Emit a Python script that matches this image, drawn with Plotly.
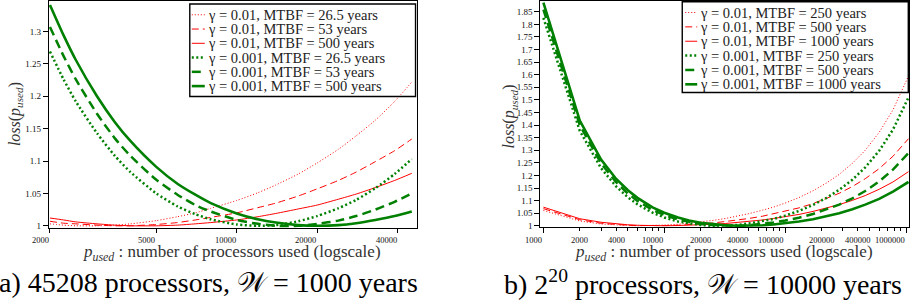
import math
import plotly.graph_objects as go

W, H = 910, 308
FONT = "Liberation Serif"
RED, GREEN = "#ff0000", "#008000"

# ---------------- data: (a) 45208 processors ----------------
p_a = [2000, 2250, 2500, 3000, 3500, 4000, 5000, 6000, 7000, 8000, 10000, 12000, 14000,
       17000, 20000, 24000, 28000, 33000, 39000, 45208]
a_r_265 = [1.003, 1.001, 1.000, 1.000, 1.001, 1.003, 1.008, 1.014, 1.020, 1.027, 1.039, 1.051,
           1.063, 1.080, 1.097, 1.118, 1.139, 1.163, 1.192, 1.222]
a_r_53 = [1.007, 1.004, 1.003, 1.001, 1.000, 1.000, 1.002, 1.005, 1.009, 1.013, 1.020, 1.028,
          1.035, 1.046, 1.057, 1.070, 1.083, 1.099, 1.116, 1.134]
a_r_500 = [1.012, 1.009, 1.006, 1.003, 1.001, 1.000, 1.000, 1.001, 1.003, 1.005, 1.009, 1.014,
           1.019, 1.026, 1.032, 1.041, 1.049, 1.059, 1.070, 1.081]
a_g_265 = [1.269, 1.226, 1.192, 1.143, 1.108, 1.083, 1.050, 1.030, 1.018, 1.010, 1.002, 1.000,
           1.001, 1.007, 1.015, 1.027, 1.040, 1.058, 1.080, 1.103]
a_g_53 = [1.307, 1.262, 1.226, 1.173, 1.135, 1.108, 1.071, 1.048, 1.032, 1.022, 1.009, 1.003,
          1.000, 1.000, 1.003, 1.008, 1.015, 1.025, 1.037, 1.050]
a_g_500 = [1.341, 1.294, 1.256, 1.200, 1.160, 1.131, 1.091, 1.065, 1.048, 1.035, 1.019, 1.010,
           1.005, 1.001, 1.000, 1.001, 1.004, 1.009, 1.015, 1.022]

# ---------------- data: (b) 2^20 processors ----------------
p_b = [1000, 2000, 3000, 4000, 5000, 6000, 8000, 10000, 13000, 16000, 20000, 25000, 32000,
       40000, 50000, 65000, 80000, 100000, 130000, 170000, 220000, 280000, 360000, 460000,
       600000, 780000, 1048576]
b_r_250 = [1.061, 1.019, 1.007, 1.002, 1.001, 1.000, 1.001, 1.003, 1.006, 1.010, 1.015, 1.021,
           1.029, 1.038, 1.048, 1.062, 1.074, 1.090, 1.112, 1.139, 1.170, 1.204, 1.248, 1.300,
           1.371, 1.460, 1.595]
b_r_500 = [1.068, 1.024, 1.010, 1.005, 1.002, 1.001, 1.000, 1.001, 1.002, 1.004, 1.008, 1.011,
           1.017, 1.022, 1.029, 1.038, 1.047, 1.057, 1.071, 1.088, 1.108, 1.129, 1.156, 1.187,
           1.227, 1.276, 1.346]
b_r_1000 = [1.074, 1.028, 1.014, 1.007, 1.004, 1.002, 1.000, 1.000, 1.001, 1.002, 1.003, 1.006,
            1.009, 1.013, 1.017, 1.023, 1.029, 1.036, 1.045, 1.057, 1.070, 1.084, 1.101, 1.120,
            1.145, 1.174, 1.215]
b_g_250 = [1.826, 1.377, 1.229, 1.156, 1.113, 1.085, 1.052, 1.033, 1.017, 1.009, 1.003, 1.000,
           1.001, 1.003, 1.009, 1.018, 1.027, 1.040, 1.059, 1.083, 1.111, 1.143, 1.183, 1.232,
           1.298, 1.382, 1.510]
b_g_500 = [1.859, 1.400, 1.248, 1.173, 1.128, 1.099, 1.063, 1.043, 1.025, 1.015, 1.007, 1.003,
           1.000, 1.000, 1.002, 1.007, 1.013, 1.021, 1.032, 1.047, 1.065, 1.084, 1.109, 1.138,
           1.176, 1.223, 1.289]
b_g_1000 = [1.886, 1.418, 1.263, 1.186, 1.141, 1.111, 1.073, 1.052, 1.033, 1.021, 1.012, 1.006,
            1.002, 1.000, 1.000, 1.002, 1.005, 1.010, 1.017, 1.026, 1.037, 1.050, 1.066, 1.084,
            1.107, 1.136, 1.174]

legend_a = ["γ = 0.01, MTBF = 26.5 years", "γ = 0.01, MTBF = 53 years", "γ = 0.01, MTBF = 500 years",
            "γ = 0.001, MTBF = 26.5 years", "γ = 0.001, MTBF = 53 years", "γ = 0.001, MTBF = 500 years"]
legend_b = ["γ = 0.01, MTBF = 250 years", "γ = 0.01, MTBF = 500 years", "γ = 0.01, MTBF = 1000 years",
            "γ = 0.001, MTBF = 250 years", "γ = 0.001, MTBF = 500 years", "γ = 0.001, MTBF = 1000 years"]

# tick values / labels
xa_vals = [2000, 5000, 10000, 20000, 40000]
xa_labels = ["2000", "5000", "10000", "20000", "40000"]
xb_decades = [1000, 10000, 100000, 1000000]
xb_decade_labels = ["1000", "10000", "100000", "1000000"]
xb_vals = [2000, 4000, 20000, 40000, 200000, 400000]
xb_labels = ["2000", "4000", "20000", "40000", "200000", "400000"]
xb_minor = [2000, 3000, 4000, 5000, 6000, 7000, 8000, 9000, 20000, 30000, 40000, 50000, 60000,
            70000, 80000, 90000, 200000, 300000, 400000, 500000, 600000, 700000, 800000, 900000]
ya_vals = [1, 1.05, 1.1, 1.15, 1.2, 1.25, 1.3]
ya_labels = ["1", "1.05", "1.1", "1.15", "1.2", "1.25", "1.3"]
yb_vals = [1, 1.05, 1.1, 1.15, 1.2, 1.25, 1.3, 1.35, 1.4, 1.45, 1.5, 1.55, 1.6, 1.65, 1.7, 1.75,
           1.8, 1.85]
yb_labels = ["1", "1.05", "1.1", "1.15", "1.2", "1.25", "1.3", "1.35", "1.4", "1.45", "1.5",
             "1.55", "1.6", "1.65", "1.7", "1.75", "1.8", "1.85"]

series_a = [a_r_265, a_r_53, a_r_500, a_g_265, a_g_53, a_g_500]
series_b = [b_r_250, b_r_500, b_r_1000, b_g_250, b_g_500, b_g_1000]

styles = [dict(color=RED, width=1, dash="1px,2px"),
          dict(color=RED, width=1, dash="7px,4px"),
          dict(color=RED, width=1),
          dict(color=GREEN, width=2.5, dash="2px,2.5px"),
          dict(color=GREEN, width=2.5, dash="9px,5px"),
          dict(color=GREEN, width=2.6)]


def X(px):
    return px / W


def Y(py):
    return 1 - py / H


fig = go.Figure()
for ys, st, name in zip(series_a, styles, legend_a):
    fig.add_trace(go.Scatter(x=p_a, y=ys, mode="lines", line=dict(shape="spline", smoothing=0.6, **st),
                             name=name, xaxis="x", yaxis="y", showlegend=False))
for ys, st, name in zip(series_b, styles, legend_b):
    fig.add_trace(go.Scatter(x=p_b, y=ys, mode="lines", line=st, name=name,
                             xaxis="x2", yaxis="y2", showlegend=False))

tickfont_y = dict(family=FONT, size=9, color="#111")
common = dict(showgrid=False, zeroline=False, showline=True, linecolor="black",
              linewidth=1.3, mirror=True, ticks="outside", tickcolor="black", tickwidth=1)

fig.update_layout(
    width=W, height=H, autosize=False, margin=dict(l=0, r=0, t=0, b=0),
    paper_bgcolor="white", plot_bgcolor="white", showlegend=False,
    xaxis=dict(domain=[X(49), X(417)], type="log", range=[3.29729, 4.67299], anchor="y",
               tickvals=xa_vals, showticklabels=False, ticklen=4, **common),
    yaxis=dict(domain=[Y(231), 1], range=[0.9962, 1.3471], anchor="x",
               tickvals=ya_vals, ticktext=ya_labels, ticklen=5, tickfont=tickfont_y, **common),
    xaxis2=dict(domain=[X(541), 1], type="log", range=[2.9752, 6.0248], anchor="y2",
                tickvals=xb_decades, showticklabels=False, ticklen=5,
                minor=dict(tickvals=xb_minor, ticks="outside", ticklen=2.5, tickcolor="black",
                           showgrid=False), **common),
    yaxis2=dict(domain=[Y(230), 1], range=[0.9941, 1.8929], anchor="x2",
                tickvals=yb_vals, ticktext=yb_labels, ticklen=5, tickfont=tickfont_y, **common),
)

ann = []
shapes = []


def text(x, y, t, size, color, xanchor="center", angle=0):
    ann.append(dict(x=X(x), y=Y(y), xref="paper", yref="paper", text=t, textangle=angle,
                    xanchor=xanchor, yanchor="middle", showarrow=False,
                    font=dict(family=FONT, size=size, color=color)))


def xtick_label(axis, value, label, xanchor):
    ann.append(dict(x=math.log10(value), y=Y(242.5), xref=axis, yref="paper", text=label,
                    xanchor=xanchor, yanchor="middle", showarrow=False, borderpad=0,
                    font=dict(family=FONT, size=8.5, color="#111")))


for v, s in zip(xa_vals, xa_labels):
    xtick_label("x", v, s, "right")
for v, s in zip(xb_decades, xb_decade_labels):
    xtick_label("x2", v, s, "right")
for v, s in zip(xb_vals, xb_labels):
    xtick_label("x2", v, s, "center")

ylab = "<i>loss</i>(<i>p</i><sub><i>used</i></sub>)"
xlab = "<i>p</i><sub><i>used</i></sub> : number of processors used (logscale)"
text(15, 115, ylab, 16, "#333", angle=-90)
text(510, 117, ylab, 16, "#333", angle=-90)
text(232, 256, xlab, 17, "#333")
text(725, 256, xlab, 17, "#333")
text(209, 286, "a) 45208 processors, 𝒲 = 1000 years", 28, "black")
text(704, 286, "b) 2<sup>20</sup> processors, 𝒲 = 10000 years", 28, "black")


def legend(box, rows, sx0, sx1, tx, texts):
    x0, y0, x1, y1 = box
    shapes.append(dict(type="rect", xref="paper", yref="paper", x0=X(x0), x1=X(x1),
                       y0=Y(y0), y1=Y(y1), line=dict(color="black", width=1.4)))
    for i, (t, st) in enumerate(zip(texts, styles)):
        yy = rows[0] + rows[1] * i
        shapes.append(dict(type="line", xref="paper", yref="paper", x0=X(sx0), x1=X(sx1),
                           y0=Y(yy), y1=Y(yy), line=st))
        text(tx, yy, t, 14.5, "#222", xanchor="left")


legend((190, 3, 416, 97), (14, 14.5), 192, 205, 206, legend_a)
legend((683, 0.7, 909.3, 93), (11.7, 14.6), 686, 698, 699, legend_b)
fig.update_layout(annotations=ann, shapes=shapes)
fig.write_html("out.html", config={"displayModeBar": False},
               post_script="document.body.style.margin='0';")
